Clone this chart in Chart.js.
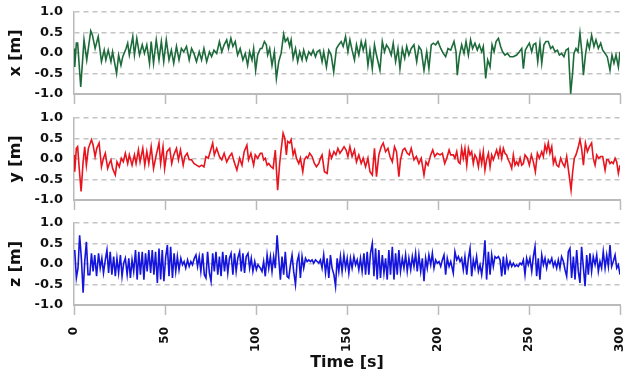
<!DOCTYPE html>
<html>
<head>
<meta charset="utf-8">
<script src="https://cdn.jsdelivr.net/npm/chart.js@4"></script>
<style>
  html, body { margin: 0; padding: 0; background: #fff; }
  #wrap { position: relative; width: 631px; height: 379px; overflow: hidden; }
  canvas { position: absolute; left: 0; }
</style>
</head>
<body>
<div id="wrap">
  <canvas id="cx" width="631" height="110" style="top:0px"></canvas>
  <canvas id="cy" width="631" height="110" style="top:105px"></canvas>
  <canvas id="cz" width="631" height="169" style="top:210px"></canvas>
</div>
<script>
// Time ticks (s) and value ticks (m)
const timeTicks = [0, 50, 100, 150, 200, 250, 300];
const valueTicks = [-1.0, -0.5, 0.0, 0.5, 1.0];
const axisLabels = ["x [m]", "y [m]", "z [m]"];
const timeLabel = "Time [s]";

// x [m] : [time s, value m]
const xSeries = [
[0,0.11],[0.4,-0.34],[1.3,0.24],[2.0,0.24],[3.7,-0.83],[5.5,0.32],[7.0,-0.17],[9.2,0.54],[10.1,0.44],[11.6,0.11],
[13.3,0.40],[15.1,-0.21],[16.6,0.07],[17.5,-0.17],[18.8,0.07],[20.3,-0.21],[21.2,0.03],[23.4,-0.50],[24.5,-0.05],[25.8,-0.30],
[26.8,-0.09],[28.6,0.11],[29.5,0.24],[30.4,-0.05],[32.3,0.40],[33.2,-0.05],[34.5,0.36],[36.0,-0.05],[37.5,0.20],[38.7,-0.01],
[40.0,0.20],[41.5,-0.25],[42.4,0.28],[43.7,-0.25],[45.2,0.32],[46.7,-0.17],[48.0,0.28],[49.3,-0.21],[50.7,0.32],[52.2,-0.17],
[53.5,0.07],[54.8,-0.25],[56.3,0.16],[57.7,-0.17],[59.0,0.11],[60.3,0.03],[61.8,0.16],[63.3,-0.17],[64.6,0.11],[65.9,-0.01],
[67.3,-0.21],[68.8,0.03],[70.1,-0.17],[71.4,0.11],[72.9,-0.21],[74.4,0.03],[75.6,-0.09],[76.9,0.07],[78.4,-0.01],[79.9,0.28],
[81.2,0.03],[82.5,0.20],[83.9,0.32],[84.9,0.11],[86.2,0.36],[87.3,0.16],[88.6,0.28],[89.9,-0.05],[91.3,0.11],[92.8,-0.17],
[94.1,-0.01],[95.4,-0.30],[96.5,0.03],[97.8,-0.17],[98.7,0.11],[99.8,-0.42],[100.9,-0.05],[102.4,0.11],
[103.3,0.11],[104.6,0.28],[105.7,0.20],[106.4,-0.05],[107.5,0.11],[108.8,-0.30],[110.1,0.03],[111.2,-0.62],[112.5,-0.21],[113.8,-0.01],
[115.2,0.46],[116.1,0.28],[117.4,0.36],[118.5,0.16],[119.3,0.32],[120.4,-0.13],[121.7,0.11],[122.9,-0.21],[124.0,0.03],[125.3,-0.17],
[126.2,0.07],[127.7,-0.17],[129.0,0.03],[130.3,-0.05],[131.4,0.07],[132.7,-0.09],[133.6,0.03],[135.0,0.07],[136.3,-0.21],[137.2,0.03],
[138.7,-0.34],[140.0,0.07],[141.3,-0.05],[142.7,-0.46],[144.2,0.11],[145.5,0.20],[146.8,0.28],[147.9,0.16],[149.2,0.40],[150.5,0.03],
[151.6,0.32],[152.8,0.07],[154.1,-0.17],[155.2,0.20],[156.5,-0.05],[157.8,0.28],[158.9,0.07],[160.2,0.28],[161.5,-0.30],[162.6,0.07],
[163.9,-0.38],[165.1,0.20],[166.2,-0.05],[168.1,-0.42],[169.4,0.28],[170.6,0.03],[171.7,0.20],[173.0,0.11],[174.3,-0.05],[175.4,0.24],
[176.7,-0.21],[178.0,0.11],[179.1,-0.38],[180.4,0.11],[181.7,-0.13],[182.8,0.16],[184.0,-0.05],[185.3,0.11],[186.8,0.20],[188.3,-0.21],
[189.5,0.16],[190.8,0.07],[192.3,-0.42],[193.8,0.03],[195.0,-0.38],[196.3,0.20],[197.4,0.24],[198.7,0.20],[200.0,0.28],[201.5,0.11],
[202.9,-0.01],[204.2,-0.09],[205.5,0.11],[207.0,0.07],
[208.8,0.28],[209.9,0.03],[210.6,-0.54],[211.7,-0.09],[213.0,0.20],[214.3,-0.01],[215.4,0.28],[216.7,-0.05],[217.9,0.32],[219.0,0.11],
[220.3,0.24],[221.6,0.07],[222.7,0.20],[224.0,0.03],[224.9,0.16],[226.2,-0.62],[227.3,-0.17],[228.6,-0.34],[229.7,0.20],[230.8,0.03],
[231.9,0.28],[233.2,0.36],[234.4,0.16],[235.5,0.03],[236.8,-0.05],[238.1,-0.01],[239.6,-0.09],[241.4,-0.09],[243.2,-0.05],[244.7,0.03],
[246.0,0.11],[246.9,-0.38],[248.0,0.07],[249.1,0.16],[250.2,0.24],[251.5,0.03],[252.4,0.20],[253.7,0.24],[254.8,-0.21],[256.0,0.24],
[257.0,-0.25],[258.2,0.20],[259.3,0.28],[260.6,0.28],[261.9,0.11],[263.0,0.16],[264.3,0.03],[265.6,0.07],[266.7,-0.05],[267.9,-0.01],
[269.2,-0.09],[270.3,0.07],[271.6,0.11],[272.9,-0.99],[274.0,-0.46],[274.7,-0.01],[275.8,0.11],[276.9,0.03],[278.0,0.48],[279.1,-0.01],
[279.9,-0.54],[281.0,-0.05],[282.1,0.28],[283.2,0.11],[284.4,0.43],[285.7,0.16],[286.8,0.32],[288.1,0.11],[289.4,0.24],[290.5,0.07],
[291.8,-0.01],[293.0,-0.09],[294.5,-0.42],[295.6,-0.05],[296.7,-0.25],[297.8,-0.05],[299.1,-0.34],[300.0,0.03]
];

// y [m]
const ySeries = [
[0,0.10],[0.4,-0.31],[1.3,0.26],[2.0,0.30],[2.8,-0.19],[3.9,-0.79],[5.0,-0.07],[5.9,0.30],[6.8,-0.15],[7.9,0.26],
[9.6,0.47],[10.5,0.34],[11.6,0.06],[12.5,0.26],[13.8,0.39],[15.1,-0.19],[16.2,0.02],[17.2,0.14],[18.5,-0.23],[19.4,-0.11],
[20.3,-0.02],[21.2,-0.23],[22.7,-0.39],[23.6,-0.07],[24.9,-0.19],[26.0,0.02],[27.1,-0.07],[28.2,0.14],[29.5,-0.11],[30.4,0.10],
[31.9,-0.15],[33.2,0.10],[34.1,-0.11],[35.4,0.22],[36.3,-0.07],[37.8,0.26],[38.9,-0.15],[40.0,0.18],[41.1,-0.11],[42.4,0.30],
[43.7,-0.23],[45.2,0.10],[46.7,0.39],[47.6,-0.11],[48.9,0.30],[49.8,-0.23],[51.1,0.18],[52.6,0.26],[53.7,-0.11],[54.8,0.10],
[56.3,0.26],[57.4,-0.02],[58.5,0.22],[60.0,-0.15],[60.9,0.06],[62.2,0.14],[63.3,-0.02],[64.6,-0.02],[65.9,-0.11],[67.3,-0.15],
[68.8,-0.19],[70.1,-0.15],[71.4,-0.19],[72.5,0.06],[73.8,0.02],[75.1,0.22],[76.2,0.39],[77.1,0.10],[78.4,0.26],[79.9,0.06],
[81.2,-0.02],[82.5,0.14],[83.9,-0.07],[85.4,0.06],[86.7,0.14],[88.0,-0.07],[89.5,-0.27],[91.0,0.02],[92.3,-0.15],[93.5,0.18],
[95.0,0.34],[95.9,-0.02],[97.2,0.14],[98.7,-0.15],[99.6,0.10],[100.9,0.02],[102.4,0.14],
[103.3,0.14],[104.2,-0.02],[105.1,0.02],[106.1,-0.15],[107.0,-0.11],[108.3,-0.19],[109.4,-0.23],[110.6,0.22],[111.9,-0.76],[113.0,-0.11],
[113.8,0.22],[114.9,0.63],[115.8,0.51],[116.7,0.10],[117.4,0.43],[118.5,0.39],[119.3,0.47],[120.4,0.10],[121.3,0.22],[122.2,0.02],
[123.5,-0.11],[124.4,0.02],[125.7,-0.31],[126.6,-0.02],[127.7,0.06],[128.4,0.02],[129.5,0.14],[130.8,0.06],[132.1,-0.11],[133.2,-0.19],
[134.5,-0.11],[135.4,0.02],[136.3,0.10],[137.6,-0.31],[139.1,-0.35],[140.4,0.18],[141.5,0.02],[142.8,0.18],[143.9,0.10],[145.0,0.26],
[146.1,0.14],[147.3,0.22],[148.4,0.30],[149.5,0.22],[150.5,0.06],[151.6,0.30],[152.8,0.06],[154.1,0.22],[155.2,-0.07],[156.5,0.10],
[157.8,-0.11],[158.9,0.02],[160.2,-0.19],[161.5,0.02],[162.6,-0.31],[163.9,-0.39],[165.1,0.26],[166.2,-0.43],[167.5,0.10],[168.8,0.30],
[169.9,0.39],[171.2,0.18],[172.5,0.26],[173.6,0.06],[174.9,-0.07],[176.1,0.30],[177.2,0.18],[178.5,-0.43],[179.4,-0.02],[180.7,0.22],
[181.8,0.26],[183.1,0.14],[184.2,0.10],[185.3,0.26],[186.8,-0.02],[188.1,0.06],[189.5,-0.11],[190.8,0.02],[192.3,-0.39],[193.4,-0.07],
[194.5,-0.15],[196.0,0.10],[197.1,0.22],[198.2,0.06],[199.6,0.14],[201.1,0.10],[202.4,0.14],[203.7,-0.11],[204.8,0.02],[206.1,0.22],
[207.0,0.10],
[208.4,0.10],[209.3,0.02],[210.3,0.18],[211.2,-0.07],[212.1,-0.11],[213.0,0.26],[213.9,0.02],[214.8,0.26],[215.8,-0.15],[216.7,0.26],
[217.6,0.10],[218.5,0.18],[219.4,-0.11],[220.3,0.10],[221.2,0.02],[222.2,-0.19],[223.1,0.14],[224.0,-0.11],[224.9,0.18],[225.8,-0.27],
[226.7,-0.02],[227.7,0.14],[228.6,-0.19],[229.5,0.10],[230.4,-0.02],[231.3,0.10],[232.2,0.22],[233.2,0.06],[234.1,0.26],[235.0,0.02],
[235.9,0.26],[236.8,0.14],[237.7,0.10],[238.6,-0.02],[239.6,-0.11],[240.5,-0.23],[241.4,0.10],[242.3,-0.15],[243.2,-0.07],[244.1,-0.15],
[245.1,0.02],[246.0,-0.15],[246.9,-0.11],[247.8,0.10],[249.1,0.02],[250.2,-0.15],[251.3,0.10],[252.4,-0.07],[253.5,-0.31],[254.6,0.14],
[255.7,0.02],[257.0,0.18],[257.9,0.06],[258.8,0.34],[259.7,0.18],[260.6,0.39],[261.5,0.14],[262.5,0.30],[263.4,-0.11],[264.3,0.02],
[265.2,-0.15],[266.3,-0.19],[267.4,0.02],[268.5,-0.11],[269.6,-0.19],[270.7,0.06],[271.8,-0.31],[273.1,-0.76],[274.0,-0.31],[274.9,0.02],
[275.8,0.10],[276.9,0.26],[278.0,0.47],[278.9,0.26],[279.9,-0.15],[281.0,0.39],[282.1,0.18],[283.2,0.30],[284.4,0.39],[285.3,0.02],
[286.3,-0.15],[287.2,0.10],[288.3,0.02],[289.4,0.06],[290.5,0.06],[291.8,-0.27],[292.7,-0.02],[293.6,-0.02],[294.5,-0.11],[295.4,-0.07],
[296.3,-0.11],[297.3,0.02],[298.2,-0.07],[299.1,-0.35],[300.0,-0.15]
];

// z [m]
const zSeries = [
[0,0.30],[0.4,0.34],[1.3,-0.34],[2.2,-0.10],[3.1,0.70],[4.1,0.10],[5.0,-0.70],[5.9,0.06],[6.8,0.54],[7.7,-0.26],
[8.7,-0.26],[9.6,0.26],[10.5,-0.18],[11.4,0.22],[12.4,-0.30],[13.5,0.26],[14.4,-0.10],[15.3,0.14],[16.2,-0.22],[17.2,0.10],
[18.1,0.34],[19.0,-0.22],[19.9,0.30],[20.8,-0.26],[21.8,0.18],[22.7,-0.30],[23.6,0.14],[24.5,-0.22],[25.5,0.22],[26.4,-0.30],
[27.3,0.02],[28.2,0.14],[29.2,-0.26],[30.1,0.14],[31.0,-0.34],[31.9,0.10],[32.8,-0.18],[33.8,0.34],[34.7,-0.38],[35.6,0.30],
[36.5,-0.26],[37.5,0.30],[38.4,-0.38],[39.3,0.26],[40.2,-0.18],[41.1,0.34],[42.1,-0.22],[43.0,0.34],[43.9,-0.26],[44.8,0.30],
[45.8,-0.46],[46.7,0.38],[47.6,-0.38],[48.5,0.34],[49.4,-0.42],[50.4,0.18],[51.3,0.46],[52.2,-0.30],[53.1,0.42],[54.1,-0.34],
[55.0,0.26],[55.9,-0.18],[56.8,0.18],[57.7,-0.14],[58.7,0.14],[59.6,-0.02],[60.5,0.06],[61.4,-0.10],[62.4,0.10],[63.3,-0.06],
[64.2,0.06],[65.1,-0.02],[66.1,0.14],[67.0,0.22],[67.9,-0.06],[68.8,0.18],[69.7,-0.18],[70.7,0.26],[71.6,-0.26],[72.5,-0.34],
[73.4,0.30],[74.4,-0.22],[75.3,-0.42],[76.2,0.26],[77.1,-0.18],[78.0,0.30],[79.0,-0.26],[79.9,0.18],[80.8,-0.30],[81.7,0.30],
[82.7,-0.18],[83.6,0.22],[84.5,-0.22],[85.4,0.14],[86.3,0.26],[87.3,-0.26],[88.2,0.26],[89.1,-0.18],[90.0,0.14],[91.0,0.30],
[91.9,-0.18],[92.8,0.26],[93.7,-0.22],[94.6,0.18],[95.6,0.26],[96.5,-0.10],[97.4,0.14],[98.3,-0.18],[99.3,0.06],[100.2,-0.14],
[101.1,-0.02],[102.4,-0.10],
[103.3,-0.18],[104.2,0.06],[105.1,-0.30],[106.1,0.22],[107.0,-0.10],[107.9,0.18],[108.8,-0.18],[109.7,0.18],[110.6,-0.10],[111.6,0.70],
[112.5,0.14],[113.4,-0.38],[114.3,0.18],[115.2,-0.26],[116.1,0.30],[117.1,-0.30],[118.0,-0.34],[118.9,-0.02],[119.8,0.22],[120.7,-0.18],
[121.7,-0.50],[122.6,0.06],[123.5,0.22],[124.4,-0.34],[125.3,0.18],[126.2,-0.10],[127.2,0.14],[128.1,0.06],[129.0,0.10],[129.9,0.06],
[130.8,0.10],[131.7,0.02],[132.7,0.10],[133.6,0.06],[134.5,0.02],[135.4,0.10],[136.3,-0.10],[137.2,0.22],[138.2,-0.22],[139.1,0.14],
[140.0,-0.34],[140.9,0.22],[141.8,-0.10],[142.8,-0.26],[143.7,-0.54],[144.6,0.14],[145.5,-0.18],[146.4,0.18],[147.3,-0.18],[148.3,0.22],
[149.2,-0.10],[150.1,0.14],[151.0,-0.22],[151.9,0.14],[152.8,-0.10],[153.8,0.18],[154.7,-0.02],[155.6,0.10],[156.5,-0.14],[157.4,0.14],
[158.3,-0.18],[159.3,0.26],[160.2,-0.26],[161.1,0.30],[162.0,-0.26],[162.9,0.26],[163.9,0.50],[164.8,-0.30],[165.7,0.38],[166.6,-0.38],
[167.5,0.34],[168.4,-0.34],[169.4,0.22],[170.3,-0.22],[171.2,0.14],[172.1,-0.38],[173.0,0.34],[173.9,-0.26],[174.9,0.42],[175.8,-0.38],
[176.7,0.26],[177.6,-0.26],[178.5,0.34],[179.4,-0.18],[180.4,0.14],[181.3,-0.10],[182.2,0.22],[183.1,-0.18],[184.0,0.14],[185.0,-0.14],
[185.9,0.18],[186.8,-0.06],[187.7,0.26],[188.6,-0.18],[189.5,0.22],[190.5,-0.18],[191.4,0.14],[192.3,-0.42],[193.2,0.14],[194.1,-0.10],
[195.0,0.22],[196.0,-0.02],[196.9,0.26],[197.8,-0.10],[198.7,0.10],[199.6,0.02],[200.6,0.06],[201.5,-0.06],[202.4,0.10],[203.3,0.22],
[204.2,-0.26],[205.1,0.14],[206.1,-0.06],[207.0,0.06],
[208.4,-0.22],[209.3,0.30],[210.3,0.10],[211.2,0.18],[212.1,0.06],[213.0,0.14],[213.9,-0.14],[214.8,0.18],[215.8,-0.26],[216.7,0.14],
[217.6,0.38],[218.5,-0.30],[219.4,0.10],[220.3,-0.10],[221.2,0.18],[222.2,-0.18],[223.1,-0.02],[224.0,-0.26],[224.9,0.06],[225.8,0.58],
[226.7,-0.38],[227.7,0.30],[228.6,-0.26],[229.5,0.22],[230.4,-0.06],[231.3,0.18],[232.2,0.14],[233.2,0.18],[234.1,0.10],[235.0,-0.30],
[235.9,0.18],[236.8,-0.26],[237.7,0.14],[238.6,-0.10],[239.6,0.06],[240.5,-0.06],[241.4,0.02],[242.3,-0.06],[243.2,-0.02],[244.1,-0.06],
[245.1,0.02],[246.0,-0.02],[246.9,0.10],[247.8,-0.26],[248.7,0.14],[249.6,-0.02],[250.5,0.14],[251.5,-0.18],[252.4,0.18],[253.3,0.42],
[254.2,-0.30],[255.1,0.14],[256.0,-0.38],[257.0,0.22],[257.9,-0.02],[258.8,0.14],[259.7,-0.10],[260.6,0.10],[261.5,0.02],[262.5,0.14],
[263.4,-0.06],[264.3,0.06],[265.2,-0.10],[266.1,0.10],[267.0,-0.10],[267.9,0.18],[268.9,0.06],[269.8,-0.14],[270.7,-0.30],[271.6,0.30],
[272.5,0.38],[273.4,-0.34],[274.4,0.18],[275.3,-0.38],[276.2,0.34],[277.1,-0.18],[278.0,-0.46],[278.9,0.42],[279.9,-0.10],[280.8,-0.54],
[281.7,0.22],[282.6,-0.26],[283.5,0.26],[284.4,-0.18],[285.3,0.18],[286.3,-0.02],[287.2,0.22],[288.1,-0.18],[289.0,0.06],[289.9,-0.10],
[290.8,0.30],[291.8,-0.10],[292.7,0.22],[293.6,-0.06],[294.5,0.46],[295.4,-0.06],[296.3,0.06],[297.3,0.22],[298.2,-0.10],[299.1,-0.02],
[300.0,-0.26]
];

const panels = [
  { id: "cx", data: xSeries, color: "#1d6b3b", label: axisLabels[0], padTop: 12, xHeight: 16, bottom: false },
  { id: "cy", data: ySeries, color: "#e8141e", label: axisLabels[1], padTop: 13, xHeight: 15, bottom: false },
  { id: "cz", data: zSeries, color: "#1414dc", label: axisLabels[2], padTop: 13, xHeight: 74, bottom: true }
];

Chart.defaults.font.family = "'DejaVu Sans', sans-serif";
Chart.defaults.font.weight = "bold";
Chart.defaults.color = "#111";

const GRID = "#c4c4c4";
const AXIS = "#bababa";

function zeroPad(s) { s.paddingTop = 0; s.paddingBottom = 0; s.paddingLeft = 0; s.paddingRight = 0; }

panels.forEach(p => {
  new Chart(document.getElementById(p.id), {
    type: "line",
    data: {
      datasets: [{
        data: p.data.map(d => ({ x: d[0], y: d[1] })),
        borderColor: p.color,
        borderWidth: 1.6,
        pointRadius: 0,
        tension: 0,
        fill: false
      }]
    },
    options: {
      responsive: false,
      animation: false,
      devicePixelRatio: 1,
      layout: { padding: { top: p.padTop, right: 11, left: 0, bottom: 0 } },
      plugins: { legend: { display: false }, tooltip: { enabled: false } },
      scales: {
        x: {
          type: "linear",
          min: timeTicks[0],
          max: timeTicks[timeTicks.length - 1],
          afterBuildTicks: s => { s.ticks = timeTicks.map(v => ({ value: v })); },
          afterFit: s => { s.height = p.xHeight; zeroPad(s); },
          grid: { drawOnChartArea: false, drawTicks: true, tickLength: 10, tickColor: AXIS, tickWidth: 1.5, color: AXIS },
          border: { display: true, color: AXIS, width: 2 },
          ticks: {
            display: p.bottom,
            autoSkip: false,
            maxRotation: 90,
            minRotation: 90,
            padding: 12,
            font: { size: 12, weight: "bold" },
            color: "#111"
          },
          title: {
            display: p.bottom,
            text: timeLabel,
            font: { size: 16, weight: "bold" },
            color: "#111",
            padding: { top: 0, bottom: 7 }
          }
        },
        y: {
          min: -1,
          max: 1,
          afterBuildTicks: s => { s.ticks = valueTicks.map(v => ({ value: v })); },
          afterFit: s => { s.width = 74; zeroPad(s); },
          grid: { drawTicks: false, color: GRID, lineWidth: 1.5 },
          border: { display: true, color: AXIS, width: 1.5, dash: [5, 4] },
          ticks: {
            padding: 11,
            font: { size: 13, weight: "bold" },
            color: "#111",
            callback: v => Number(v).toFixed(1)
          },
          title: {
            display: true,
            text: p.label,
            font: { size: 16, weight: "bold" },
            color: "#111",
            padding: { top: 6, bottom: 0 }
          }
        }
      }
    }
  });
});
</script>
</body>
</html>
